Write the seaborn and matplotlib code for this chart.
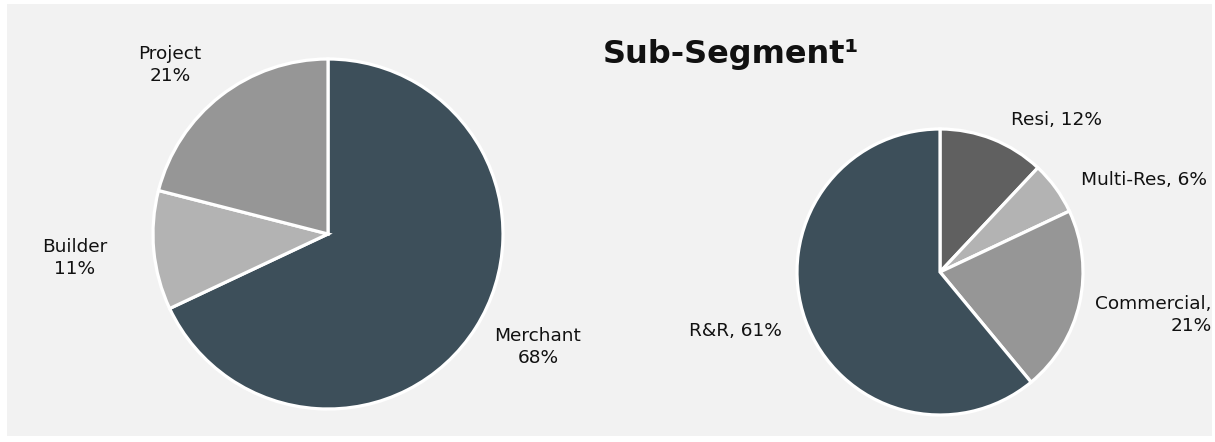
import matplotlib
matplotlib.use("Agg")
import matplotlib.pyplot as plt
from matplotlib.patches import Rectangle
import seaborn as sns

# Channel split (left pie)
channel_labels = ["Merchant", "Builder", "Project"]
channel_shares = [68, 11, 21]

# Sub-segment split (right pie)
segment_labels = ["Resi", "Multi-Res", "Commercial", "R&R"]
segment_shares = [12, 6, 21, 61]

title_text = "Sub-Segment\u00b9"

sns.set_theme(style="white")
plt.rcParams["font.family"] = ["DejaVu Sans"]

SLATE = "#3d4f5a"
channel_colors = [SLATE, "#b3b3b3", "#969696"]
segment_colors = ["#606060", "#b3b3b3", "#969696", SLATE]

W, H = 1215, 442
fig = plt.figure(figsize=(W / 100, H / 100), dpi=100)
fig.patch.set_facecolor("white")
fig.add_artist(Rectangle((7 / W, 6 / H), (1212 - 7) / W, (438 - 6) / H,
                         transform=fig.transFigure, facecolor="#f2f2f2",
                         edgecolor="none", zorder=0))


def pie_axes(cx, cy, r):
    ax = fig.add_axes([(cx - r) / W, (H - cy - r) / H, 2 * r / W, 2 * r / H])
    ax.set_facecolor("none")
    return ax


wedge_style = dict(edgecolor="white", linewidth=2.3)
text_style = dict(fontsize=13.3, color="#111111", clip_on=False)

# Left pie
ax1 = pie_axes(328, 234, 175)
ax1.pie(channel_shares, colors=channel_colors, startangle=90,
        counterclock=False, wedgeprops=wedge_style, radius=1)
ax1.set_xlim(-1, 1)
ax1.set_ylim(-1, 1)
ax1.axis("off")
channel_label_pos = [(1.20, -0.645), (-1.446, -0.137), (-0.903, 0.966)]
for name, share, (x, y) in zip(channel_labels, channel_shares, channel_label_pos):
    ax1.text(x, y, f"{name}\n{share}%", ha="center", va="center",
             multialignment="center", linespacing=1.25, **text_style)

# Right pie
ax2 = pie_axes(940, 272, 143)
ax2.pie(segment_shares, colors=segment_colors, startangle=90,
        counterclock=False, wedgeprops=wedge_style, radius=1)
ax2.set_xlim(-1, 1)
ax2.set_ylim(-1, 1)
ax2.axis("off")
segment_label_pos = [(0.818, 1.063, "center"), (1.427, 0.643, "center"),
                     (1.90, -0.30, "right"), (-1.434, -0.413, "center")]
for name, share, (x, y, ha) in zip(segment_labels, segment_shares, segment_label_pos):
    label = f"{name},\n{share}%" if name == "Commercial" else f"{name}, {share}%"
    ax2.text(x, y, label, ha=ha, va="center", multialignment=ha,
             linespacing=1.25, **text_style)

fig.text(731 / W, 1 - 55 / H, title_text, ha="center", va="center",
         fontsize=23, fontweight="bold", color="#111111")

fig.savefig("out.png", dpi=100, facecolor=fig.get_facecolor())
